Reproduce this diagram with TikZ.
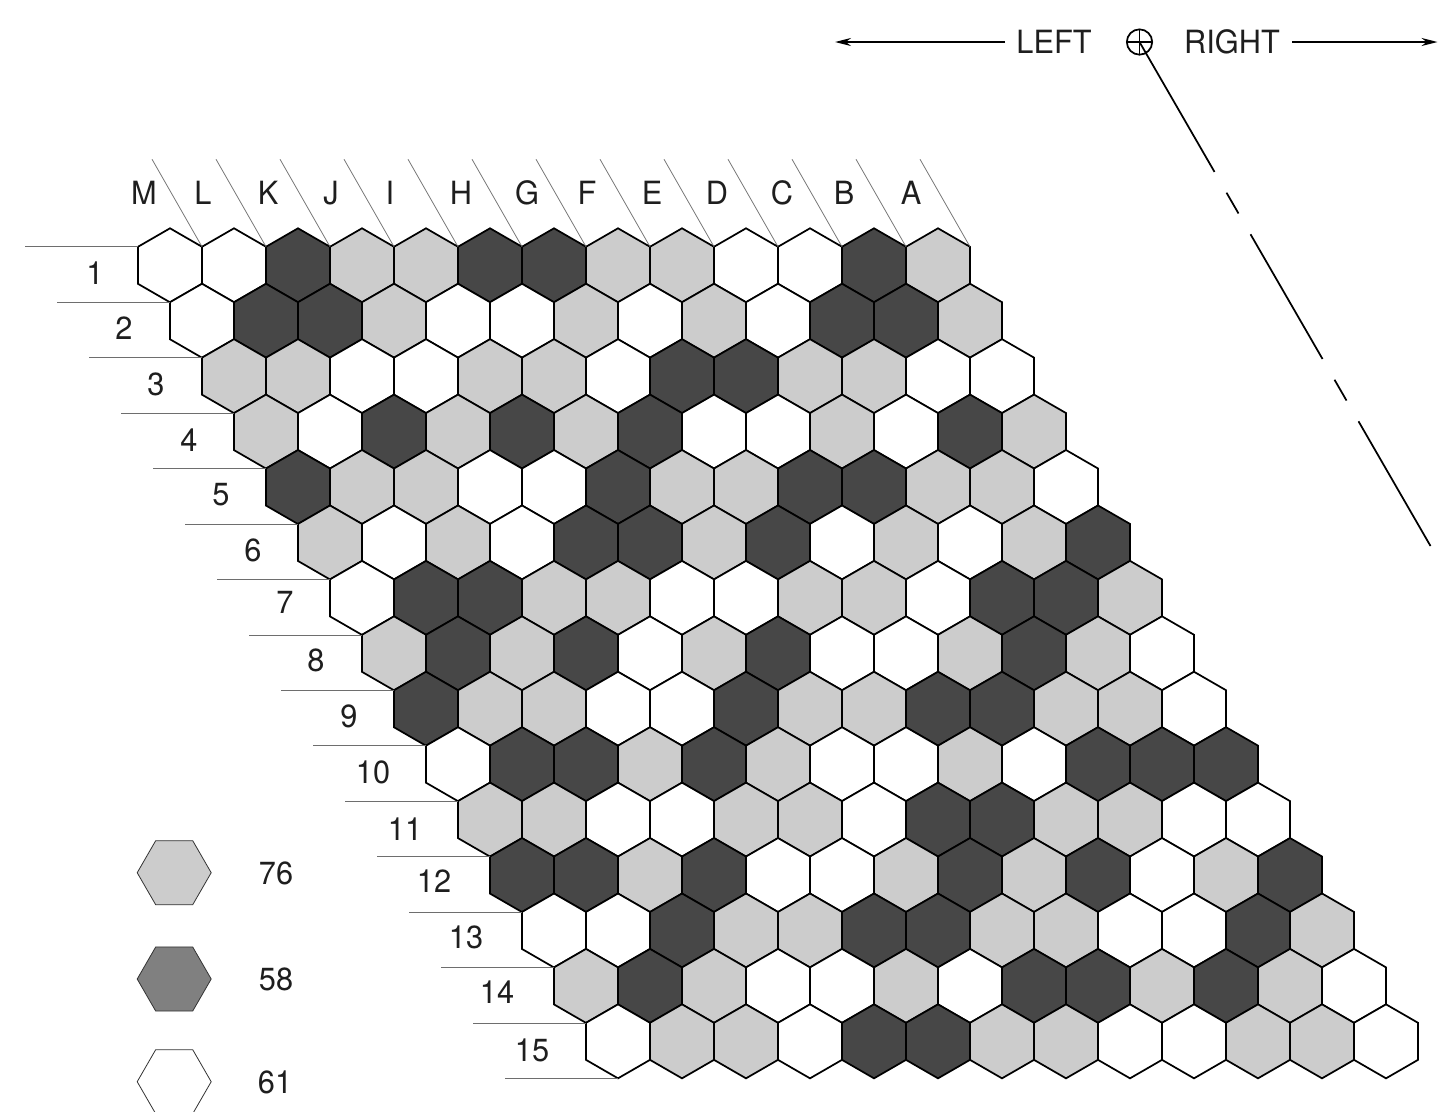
\documentclass[tikz,border=0pt]{standalone}
\usepackage{fontspec}
\setmainfont[FakeStretch=0.96]{TeX Gyre Heros}
\usepackage{xcolor}
\usepackage{tikz}
\usetikzlibrary{arrows.meta,shapes.geometric}
\definecolor{plate_grey}{RGB}{204,204,204}
\definecolor{plate_dark}{RGB}{71,71,71}
\definecolor{plate_mid}{RGB}{128,128,128}
\definecolor{plate_rule}{RGB}{110,110,110}
\definecolor{plate_text}{RGB}{30,30,30}
\tikzset{
  cell/.style={draw=black, line width=1.3pt, line join=miter, regular polygon, regular polygon sides=6,
               regular polygon rotate=30, minimum size=55.5pt, inner sep=0pt, outer sep=0pt},
  cellG/.style={cell, fill=plate_grey},
  cellD/.style={cell, fill=plate_dark},
  cellW/.style={cell, fill=white},
  keycell/.style={draw=black!80, line width=0.6pt, regular polygon, regular polygon sides=6,
                  minimum size=55.5pt, inner sep=0pt, outer sep=0pt},
  label/.style={inner sep=0pt, outer sep=0pt, text=plate_text},
  rule/.style={draw=plate_rule, line width=0.55pt},
  heavy/.style={draw=black, line width=1.3pt}
}

\begin{document}
\begin{tikzpicture}[x=0.75pt, y=-0.75pt, font=\fontsize{24}{28}\selectfont]
        \useasboundingbox (0,0) rectangle (1438,1111);
        % Plate
        \foreach \rowno/\cells in {
            1/{W,W,D,G,G,D,D,G,G,W,W,D,G},
            2/{W,D,D,G,W,W,G,W,G,W,D,D,G},
            3/{G,G,W,W,G,G,W,D,D,G,G,W,W},
            4/{G,W,D,G,D,G,D,W,W,G,W,D,G},
            5/{D,G,G,W,W,D,G,G,D,D,G,G,W},
            6/{G,W,G,W,D,D,G,D,W,G,W,G,D},
            7/{W,D,D,G,G,W,W,G,G,W,D,D,G},
            8/{G,D,G,D,W,G,D,W,W,G,D,G,W},
            9/{D,G,G,W,W,D,G,G,D,D,G,G,W},
            10/{W,D,D,G,D,G,W,W,G,W,D,D,D},
            11/{G,G,W,W,G,G,W,D,D,G,G,W,W},
            12/{D,D,G,D,W,W,G,D,G,D,W,G,D},
            13/{W,W,D,G,G,D,D,G,G,W,W,D,G},
            14/{G,D,G,W,W,G,W,D,D,G,D,G,W},
            15/{W,G,G,W,D,D,G,G,W,W,G,G,W}}
          \foreach \kind [count=\colno from 0] in \cells
            \node[cell\kind] (c-\rowno-\colno)
              at ({170+32*(\rowno-1)+64*\colno},{265.3+55.43*(\rowno-1)}) {};
        % Row rules
        \draw[rule] (c-1-0.corner 2) -- ++(-113,0);
        \foreach \rowno in {1,...,15}
          \draw[rule] (c-\rowno-0.corner 4) -- ++(-113,0);
        \foreach \rowno/\x/\y in {1/95/273, 2/124/328, 3/156/384, 4/189/440, 5/221/495,
            6/253/550, 7/285/602, 8/316/660, 9/349/716, 10/373/772,
            11/405/829, 12/434/881, 13/466/937, 14/497/992, 15/532/1050}
          \node[label] (row-\rowno) at (\x,\y) {\rowno};
        % Column rules
        \foreach \colno in {0,...,12}
          \draw[rule] (c-1-\colno.corner 6) -- ++(-50,-87.5);
        \foreach \name/\x in {M/144, L/203, K/268, J/331, I/390, H/461, G/527,
            F/587, E/652, D/717, C/782, B/844, A/911}
          \node[label] (col-\name) at (\x,193) {\name};
        % Left and right
        \node[label] (left) at (1054,42) {LEFT};
        \node[label] (right) at (1232,42) {RIGHT};
        \node[circle, heavy, minimum size=19pt, inner sep=0pt, outer sep=0pt] (origin) at (1139.5,42) {};
        \draw[heavy] (origin.north) -- (origin.south);
        \draw[heavy] (origin.west) -- (origin.east);
        \coordinate (lefttip) at (835,42);
        \coordinate (righttip) at (1437.5,42);
        \coordinate (axisend) at (1430.5,546);
        \draw[heavy, -{Stealth[length=12pt,width=6pt]}] ([xshift=-8.5pt]left.west) -- (lefttip);
        \draw[heavy, -{Stealth[length=12pt,width=6pt]}] ([xshift=9.5pt]right.east) -- (righttip);
        \draw[heavy, dash pattern=on 112.5pt off 18pt on 18pt off 18pt on 108pt off 18pt on 18pt off 18pt on 108pt off 18pt]
          (origin.center) -- (axisend);
        % Key
        \node[keycell, fill=plate_grey] (keyG) at (174.2,872.7) {};
        \node[keycell, fill=plate_mid] (keyD) at (174.2,979) {};
        \node[keycell, fill=white] (keyW) at (174.2,1081.7) {};
        \node[label] (countG) at (276,873) {76};
        \node[label] (countD) at (276,979) {58};
        \node[label] (countW) at (275,1082) {61};
      \end{tikzpicture}
\end{document}
